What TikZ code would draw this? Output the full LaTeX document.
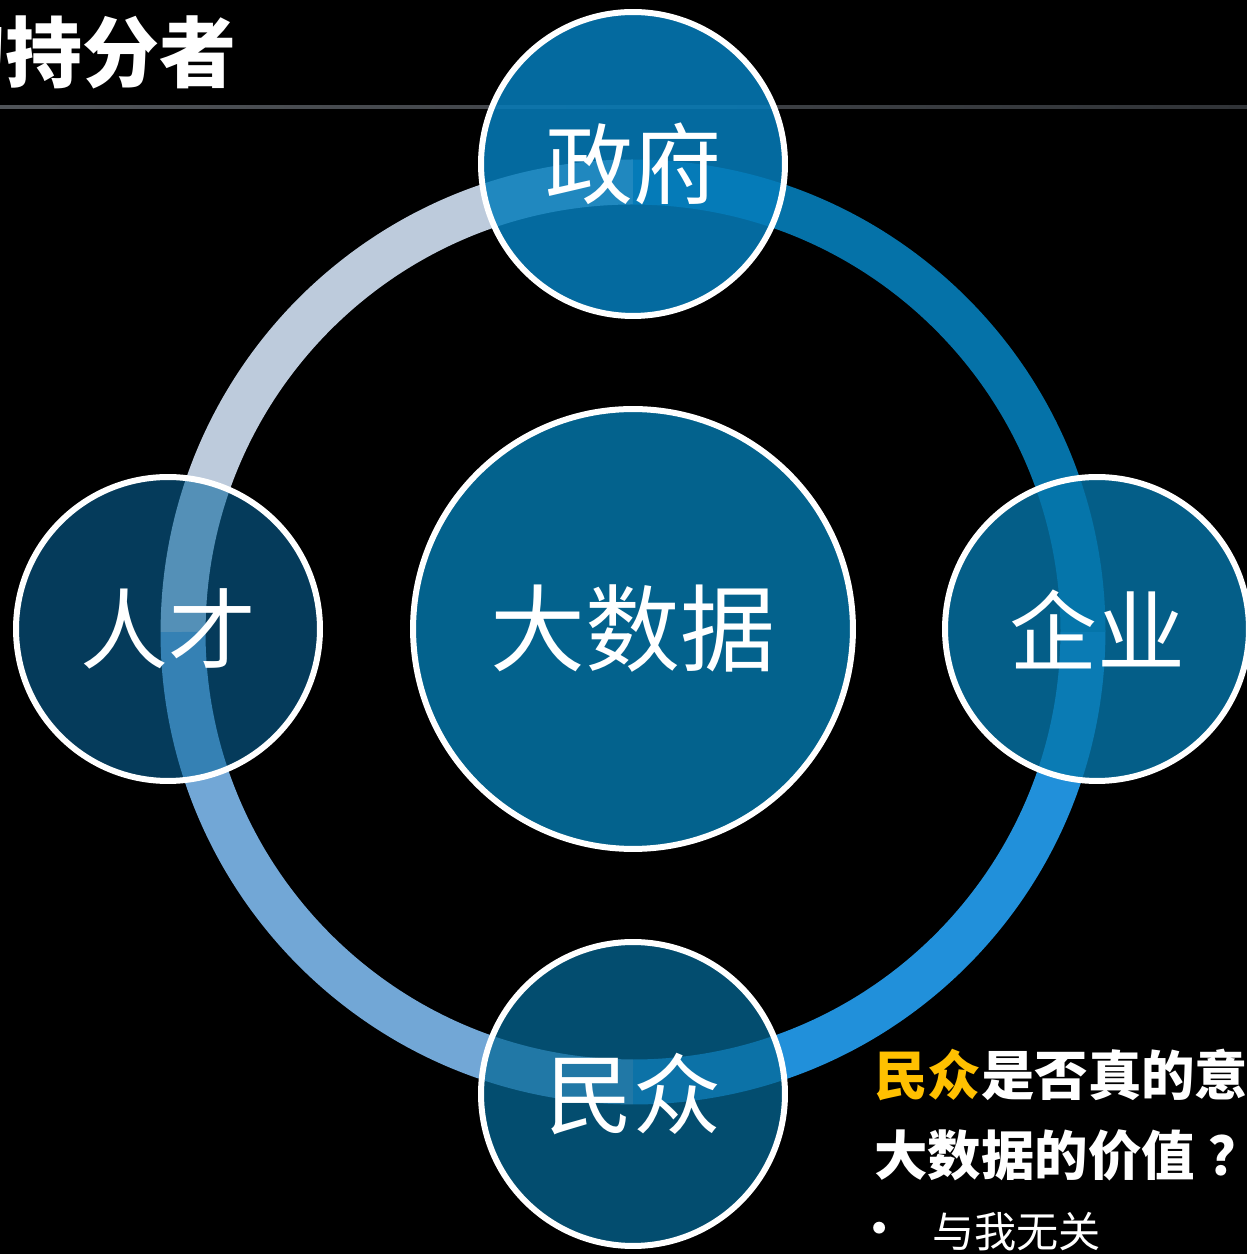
\documentclass[tikz,border=0pt]{standalone}
\usepackage{fontspec}
\usetikzlibrary{calc}
\newfontfamily\cjk{Noto Sans CJK SC}
\definecolor{ringA}{RGB}{189,203,220}
\definecolor{ringB}{RGB}{5,114,168}
\definecolor{ringC}{RGB}{33,144,218}
\definecolor{ringD}{RGB}{114,167,214}
\definecolor{fillTop}{RGB}{5,125,187}
\definecolor{fillLeft}{RGB}{9,103,157}
\definecolor{fillRight}{RGB}{5,118,171}
\definecolor{fillBottom}{RGB}{5,104,150}
\definecolor{fillCenter}{RGB}{3,98,141}
\definecolor{accent}{RGB}{255,192,0}
\definecolor{ruleL}{RGB}{80,84,89}
\definecolor{ruleR}{RGB}{48,51,55}
\tikzset{
  x=0.02cm, y=0.02cm,
  ringarc/.style={line width=0.9cm},
  stake/.style={circle, draw=white, line width=0.12cm, minimum size=6.08cm, inner sep=0pt,
    text=white, text opacity=1, draw opacity=1, font=\cjk\fontsize{50}{60}\selectfont},
  hub/.style={circle, draw=white, line width=0.12cm, minimum size=8.8cm, inner sep=0pt,
    fill=fillCenter, text=white, font=\cjk\fontsize{54}{64}\selectfont},
  titletext/.style={anchor=base west, inner sep=0pt, text=white, font=\cjk\bfseries\fontsize{43.8}{52}\selectfont},
  asktext/.style={anchor=base west, inner sep=0pt, text=white, font=\cjk\bfseries\fontsize{30.4}{36}\selectfont},
  itemtext/.style={anchor=base west, inner sep=0pt, text=white, font=\cjk\fontsize{24}{28}\selectfont},
  bullettext/.style={inner sep=0pt, text=white, font=\cjk\fontsize{32}{36}\selectfont}
}
\begin{document}
\begin{tikzpicture}
\useasboundingbox (0,0) rectangle (1247,1254);
\clip (0,0) rectangle (1247,1254);
\fill[black] (0,0) rectangle (1247,1254);
% title rule
\shade[left color=ruleL, right color=ruleR] (0,1145.5) rectangle (1247,1148.5);
% title
\node[titletext] (title) at (-72,1172) {的持分者};
% ring
\coordinate (C) at (633,622);
\draw[ringarc, ringA] ($(C)+(90:450)$) arc[start angle=90, end angle=180, radius=9cm];
\draw[ringarc, ringB] ($(C)+(0:450)$) arc[start angle=0, end angle=90, radius=9cm];
\draw[ringarc, ringC] ($(C)+(270:450)$) arc[start angle=270, end angle=360, radius=9cm];
\draw[ringarc, ringD] ($(C)+(180:450)$) arc[start angle=180, end angle=270, radius=9cm];
% stakeholders
\node[stake, fill=fillTop, fill opacity=0.85] (gov) at (633,1090) {政府};
\node[stake, fill=fillLeft, fill opacity=0.58] (talent) at (168,625) {人才};
\node[stake, fill=fillRight, fill opacity=0.8] (biz) at (1097,625) {企业};
\node[stake, fill=fillBottom, fill opacity=0.74] (people) at (633,160) {民众};
\node[hub] (bigdata) at (633,625) {大数据};
% question text
\node[asktext] (q1) at (874,158) {\textcolor{accent}{民众}是否真的意识到};
\node[asktext] (q2) at (874,78) {大数据的价值\hspace{0.25em}？};
\node[bullettext] (dot) at (880,18) {•};
\node[itemtext] (item) at (932,7) {与我无关};
\end{tikzpicture}
\end{document}
